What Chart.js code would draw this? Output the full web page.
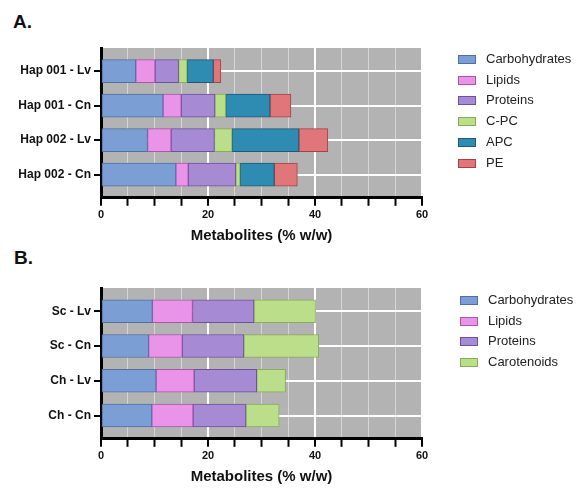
<!DOCTYPE html>
<html>
<head>
<meta charset="utf-8">
<script src="https://cdn.jsdelivr.net/npm/chart.js@4"></script>
<style>
  body { margin: 0; background: #fff; font-family: "Liberation Sans", Arial, sans-serif; }
  #wrap { position: relative; width: 581px; height: 489px; overflow: hidden; }
  .panel { position: absolute; left: 0; width: 581px; }
  .letter { position: absolute; font-weight: bold; font-size: 19px; color: #111; line-height: 20px; }
  .legend { position: absolute; font-size: 13px; color: #222; }
  .legend .row { position: absolute; left: 0; height: 14px; white-space: nowrap; }
  .legend .box { position: absolute; left: 0; top: 3px; width: 16px; height: 7px; border: 1px solid; }
  .legend .txt { position: absolute; left: 28px; top: -1px; line-height: 16px; }
</style>
</head>
<body>
<div id="wrap">
  <div class="letter" style="left:13px; top:12px;">A.</div>
  <div class="letter" style="left:14px; top:248px;">B.</div>
  <div class="panel" style="top:0; height:245px;"><canvas id="chartA" width="581" height="245"></canvas></div>
  <div class="panel" style="top:240px; height:249px;"><canvas id="chartB" width="581" height="249"></canvas></div>
  <div class="legend" id="legendA" style="left:458px; top:52px;"></div>
  <div class="legend" id="legendB" style="left:460px; top:293px;"></div>
</div>
<script>
// panel A: phycobiliprotein strains
const labelsA = ['Hap 001 - Lv', 'Hap 001 - Cn', 'Hap 002 - Lv', 'Hap 002 - Cn'];
const carbA = [6.5, 11.6, 8.7, 14.0];
const lipidA = [3.6, 3.4, 4.4, 2.3];
const protA = [4.4, 6.3, 8.1, 8.9];
const cpcA = [1.6, 2.0, 3.3, 0.8];
const apcA = [4.9, 8.3, 12.5, 6.4];
const peA = [1.4, 3.9, 5.4, 4.3];

// panel B: carotenoid strains
const labelsB = ['Sc - Lv', 'Sc - Cn', 'Ch - Lv', 'Ch - Cn'];
const carbB = [9.6, 8.9, 10.3, 9.5];
const lipidB = [7.5, 6.3, 7.1, 7.7];
const protB = [11.5, 11.5, 11.7, 9.9];
const carotB = [11.5, 14.0, 5.4, 6.2];

const xTickLabels = [0, 20, 40, 60];

const colors = {
    'Carbohydrates': ['#7b9fd5', '#4f6fa6'],
    'Lipids': ['#e993e9', '#a956a9'],
    'Proteins': ['#a68ad4', '#6f4f9f'],
    'C-PC': ['#bade8a', '#86ad58'],
    'APC': ['#2e8bb1', '#1c5a78'],
    'PE': ['#e07679', '#a04448'],
    'Carotenoids': ['#bade8a', '#86ad58']
};

const grayBg = {
    id: 'grayBg',
    beforeDraw(chart) {
        const a = chart.chartArea;
        const ctx = chart.ctx;
        ctx.save();
        ctx.fillStyle = '#b3b3b3';
        ctx.fillRect(a.left, a.top, a.right - a.left, a.bottom - a.top);
        ctx.restore();
    }
};

function makeChart(id, labels, series, padBottom) {
    const datasets = series.map(s => ({
        label: s.name,
        data: s.values.map((v, i) => ({ x: v, y: i })),
        backgroundColor: colors[s.name][0],
        borderColor: colors[s.name][1],
        borderWidth: 1,
        borderSkipped: false,
        barThickness: 23
    }));
    return new Chart(document.getElementById(id), {
        type: 'bar',
        data: { datasets: datasets },
        options: {
            indexAxis: 'y',
            responsive: false,
            animation: false,
            layout: { padding: { top: 48, right: 159, bottom: padBottom, left: 0 } },
            plugins: { legend: { display: false }, tooltip: { enabled: false } },
            scales: {
                x: {
                    type: 'linear', min: 0, max: 60, stacked: true,
                    ticks: {
                        stepSize: 5, autoSkip: false, maxRotation: 0, padding: 3,
                        callback: v => xTickLabels.includes(v) ? v : '',
                        font: { family: 'Liberation Sans', weight: 'bold', size: 11 }, color: '#111'
                    },
                    grid: {
                        color: c => (c.tick && c.tick.value % 20 === 0) ? '#ffffff' : 'rgba(255,255,255,0.45)',
                        lineWidth: c => (c.tick && c.tick.value % 20 === 0) ? 2 : 1,
                        tickColor: '#000', tickLength: 8, tickWidth: 2
                    },
                    border: { color: '#000', width: 3 },
                    title: {
                        display: true, text: 'Metabolites (% w/w)', color: '#111',
                        font: { family: 'Liberation Sans', weight: 'bold', size: 15 },
                        padding: { top: 2, bottom: 0 }
                    }
                },
                y: {
                    type: 'linear', reverse: true, min: -0.67, max: 3.67, stacked: true, offset: false,
                    afterBuildTicks: s => { s.ticks = labels.map((_, i) => ({ value: i })); },
                    afterFit: s => { s.width = 101; },
                    ticks: {
                        callback: v => labels[v], padding: 3, color: '#111',
                        font: { family: 'Liberation Sans', weight: 'bold', size: 12 }
                    },
                    grid: { offset: false, color: '#ffffff', lineWidth: 2, tickColor: '#000', tickLength: 7, tickWidth: 2 },
                    border: { color: '#000', width: 3 }
                }
            }
        },
        plugins: [grayBg]
    });
}

function makeLegend(id, names) {
    const el = document.getElementById(id);
    names.forEach((n, i) => {
        const row = document.createElement('div');
        row.className = 'row';
        row.style.top = (i * 20.7) + 'px';
        row.innerHTML = '<span class="box" style="background:' + colors[n][0] + ';border-color:' + colors[n][1] + '"></span>' +
            '<span class="txt">' + n + '</span>';
        el.appendChild(row);
    });
}

makeChart('chartA', labelsA, [
    { name: 'Carbohydrates', values: carbA },
    { name: 'Lipids', values: lipidA },
    { name: 'Proteins', values: protA },
    { name: 'C-PC', values: cpcA },
    { name: 'APC', values: apcA },
    { name: 'PE', values: peA }
], 0);

makeChart('chartB', labelsB, [
    { name: 'Carbohydrates', values: carbB },
    { name: 'Lipids', values: lipidB },
    { name: 'Proteins', values: protB },
    { name: 'Carotenoids', values: carotB }
], 3);

makeLegend('legendA', ['Carbohydrates', 'Lipids', 'Proteins', 'C-PC', 'APC', 'PE']);
makeLegend('legendB', ['Carbohydrates', 'Lipids', 'Proteins', 'Carotenoids']);
</script>
</body>
</html>
